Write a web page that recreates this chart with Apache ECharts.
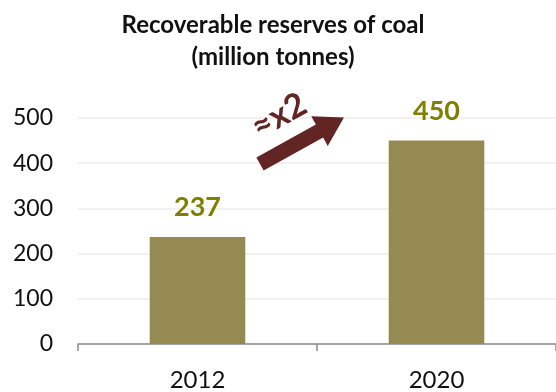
<!DOCTYPE html>
<html>
<head>
<meta charset="utf-8">
<script src="https://cdn.jsdelivr.net/npm/echarts@6/dist/echarts.min.js"></script>
<style>
  html, body { margin: 0; padding: 0; background: #ffffff; }
  #chart { width: 556px; height: 392px; }
</style>
</head>
<body>
<div id="chart"></div>
<script>
// Recoverable coal reserves, million tonnes
const years = ['2012', '2020'];
const reserves = [237, 450];
const yTicks = [0, 100, 200, 300, 400, 500];
const growthLabel = '\u2248x2';

const FONT = 'Lato, "Open Sans", sans-serif';
const BAR = '#968a53';
const LABEL = '#7f7f00';
const ARROW = '#632424';

const chart = echarts.init(document.getElementById('chart'), null, { renderer: 'canvas' });

chart.setOption({
  animation: false,
  backgroundColor: '#ffffff',
  title: {
    text: 'Recoverable reserves of coal\n(million tonnes)',
    left: 268,
    textAlign: 'center',
    top: 4,
    textStyle: { fontFamily: FONT, fontWeight: 'bold', fontSize: 24, lineHeight: 32, color: '#111' }
  },
  // plot area runs past the right edge of the canvas
  grid: { left: 78, width: 492, top: 118, height: 228 },
  xAxis: {
    type: 'category',
    data: years,
    axisLine: { lineStyle: { color: '#8c8c8c', width: 1.5 } },
    axisTick: { show: true, length: 7, lineStyle: { color: '#8c8c8c', width: 1.5 } },
    axisLabel: { fontFamily: FONT, fontSize: 24, color: '#111', margin: 24 }
  },
  yAxis: {
    type: 'value',
    min: yTicks[0],
    max: yTicks[yTicks.length - 1],
    interval: yTicks[1] - yTicks[0],
    axisLine: { show: false },
    axisTick: { show: false },
    splitLine: { lineStyle: { color: '#ececec', width: 1.5 } },
    axisLabel: { fontFamily: FONT, fontSize: 23, color: '#111', margin: 25 }
  },
  series: [{
    type: 'bar',
    data: reserves,
    barWidth: '40%',
    itemStyle: { color: BAR },
    label: {
      show: true,
      position: 'top',
      distance: 16,
      fontFamily: FONT,
      fontWeight: 'bold',
      fontSize: 27,
      color: LABEL
    }
  }]
});

// Growth arrow between the two bars, placed from the axis scale
function drawArrow() {
  const p1 = chart.convertToPixel({ seriesIndex: 0 }, [0, reserves[0]]);
  const p2 = chart.convertToPixel({ seriesIndex: 0 }, [1, reserves[1]]);
  const cx = (p1[0] + p2[0]) / 2 - 15;
  const cy = (p1[1] + p2[1]) / 2 - 48;
  const angle = 29 * Math.PI / 180;
  chart.setOption({
    graphic: [{
      type: 'group',
      x: cx,
      y: cy,
      rotation: angle,
      children: [
        {
          type: 'polygon',
          shape: {
            points: [
              [-48, -7.5], [20, -7.5], [20, -17], [48, 0], [20, 17], [20, 7.5], [-48, 7.5]
            ]
          },
          style: { fill: ARROW }
        },
        {
          type: 'text',
          x: -8,
          y: -33,
          style: {
            text: growthLabel,
            fontFamily: FONT,
            fontWeight: 'bold',
            fontSize: 34,
            fill: ARROW,
            align: 'center',
            verticalAlign: 'middle'
          }
        }
      ]
    }]
  });
}
drawArrow();
</script>
</body>
</html>
